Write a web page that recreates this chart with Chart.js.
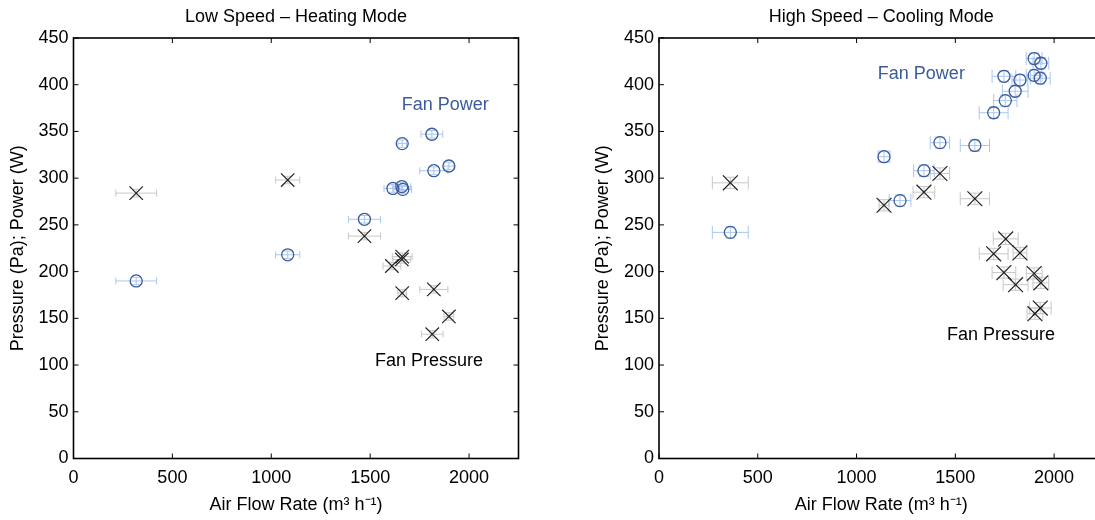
<!DOCTYPE html>
<html>
<head>
<meta charset="utf-8">
<script src="https://cdn.jsdelivr.net/npm/chart.js@4"></script>
<style>
  html, body { margin: 0; padding: 0; background: #fff; overflow: hidden; }
  #wrap { position: relative; width: 1095px; height: 520px; overflow: hidden; }
  .box { position: absolute; top: 0; height: 520px; overflow: hidden; }
</style>
</head>
<body>
<div id="wrap">
  <div class="box" style="left:0; width:547px"><canvas id="lowChart" width="547" height="520"></canvas></div>
  <!-- right axes run past the page edge, as in the original figure -->
  <div class="box" style="left:585px; width:510px"><canvas id="highChart" width="547" height="520"></canvas></div>
</div>
<script>
//* AXIS TICKS
const flowTicks = [0, 500, 1000, 1500, 2000];
const pressTicks = [0, 50, 100, 150, 200, 250, 300, 350, 400, 450];

//* LOW SPEED - HEATING MODE
const lowPowerFlow = [317, 1083, 1471, 1615, 1660, 1665, 1662, 1812, 1822, 1898];
const lowPower = [190, 218, 256, 289, 291, 288, 337, 347, 308, 313];
const lowPowerFlowErr = [103, 61, 81, 45, 45, 45, 22, 55, 71, 25];

const lowPressFlow = [317, 1083, 1471, 1610, 1662, 1660, 1662, 1822, 1898, 1814];
const lowPress = [284, 298, 238, 206, 216, 213, 177, 181, 152, 133];
const lowPressFlowErr = [103, 61, 81, 45, 50, 45, 22, 71, 25, 55];

//* HIGH SPEED - COOLING MODE
const highPowerFlow = [361, 1139, 1220, 1341, 1422, 1599, 1694, 1753, 1803, 1746, 1827, 1899, 1930, 1899, 1933];
const highPower = [242, 323, 276, 308, 338, 335, 370, 383, 393, 409, 405, 410, 407, 428, 423];
const highPowerFlowErr = [91, 30, 55, 52, 49, 74, 73, 59, 65, 60, 40, 40, 50, 40, 40];

const highPressFlow = [361, 1139, 1341, 1422, 1599, 1694, 1755, 1746, 1827, 1805, 1899, 1933, 1930, 1903];
const highPress = [295, 271, 285, 305, 278, 219, 235, 199, 220, 186, 198, 188, 161, 155];
const highPressFlowErr = [91, 25, 55, 49, 74, 73, 63, 60, 35, 63, 40, 40, 55, 40];

const FONT = 'Liberation Sans, Arial, Helvetica, sans-serif';
const POWER_COLOR = '#3b5b9b';

function toPoints(xs, ys) {
    return xs.map((x, i) => ({ x: x, y: ys[i] }));
}

// horizontal + vertical error bars, drawn under the markers
const errorBars = {
    id: 'errorBars',
    beforeDatasetsDraw(chart) {
        const ctx = chart.ctx;
        const xs = chart.scales.x, ys = chart.scales.y;
        chart.data.datasets.forEach(ds => {
            const e = ds.errorBars;
            ctx.save();
            ctx.strokeStyle = e.color;
            ctx.lineWidth = 1;
            ds.data.forEach((p, i) => {
                const px = xs.getPixelForValue(p.x);
                const py = ys.getPixelForValue(p.y);
                const x0 = xs.getPixelForValue(p.x - e.xErr[i]);
                const x1 = xs.getPixelForValue(p.x + e.xErr[i]);
                const y0 = ys.getPixelForValue(p.y - e.yErr);
                const y1 = ys.getPixelForValue(p.y + e.yErr);
                ctx.beginPath();
                ctx.moveTo(x0, py); ctx.lineTo(x1, py);
                ctx.moveTo(x0, py - e.capH); ctx.lineTo(x0, py + e.capH);
                ctx.moveTo(x1, py - e.capH); ctx.lineTo(x1, py + e.capH);
                ctx.moveTo(px, y0); ctx.lineTo(px, y1);
                ctx.moveTo(px - e.capW, y0); ctx.lineTo(px + e.capW, y0);
                ctx.moveTo(px - e.capW, y1); ctx.lineTo(px + e.capW, y1);
                ctx.stroke();
            });
            ctx.restore();
        });
    }
};

// box round the plot with inward ticks (matlab style) + title centred on the axes
const frame = {
    id: 'frame',
    afterDraw(chart) {
        const ctx = chart.ctx;
        const a = chart.chartArea;
        const x = chart.scales.x, y = chart.scales.y;
        ctx.save();
        ctx.strokeStyle = '#000';
        ctx.lineWidth = 1;
        ctx.beginPath();
        x.ticks.forEach(t => {
            const p = x.getPixelForValue(t.value);
            ctx.moveTo(p, a.bottom); ctx.lineTo(p, a.bottom - 5);
            ctx.moveTo(p, a.top); ctx.lineTo(p, a.top + 5);
        });
        y.ticks.forEach(t => {
            const p = y.getPixelForValue(t.value);
            ctx.moveTo(a.left, p); ctx.lineTo(a.left + 5, p);
            ctx.moveTo(a.right, p); ctx.lineTo(a.right - 5, p);
        });
        ctx.stroke();
        ctx.lineWidth = 1.6;
        ctx.strokeRect(a.left, a.top, a.right - a.left, a.bottom - a.top);

        ctx.fillStyle = '#000';
        ctx.font = '18px ' + FONT;
        ctx.textAlign = 'center';
        ctx.textBaseline = 'middle';
        ctx.fillText(chart.options.plugins.frame.title, (a.left + a.right) / 2, 17);
        ctx.restore();
    }
};

function notesPlugin(notes) {
    return {
        id: 'notes',
        afterDatasetsDraw(chart) {
            const ctx = chart.ctx;
            const x = chart.scales.x, y = chart.scales.y;
            ctx.save();
            ctx.font = '18px ' + FONT;
            ctx.textAlign = 'center';
            ctx.textBaseline = 'middle';
            notes.forEach(n => {
                ctx.fillStyle = n.color;
                ctx.fillText(n.text, x.getPixelForValue(n.x), y.getPixelForValue(n.y));
            });
            ctx.restore();
        }
    };
}

function makeChart(id, title, yWidth, power, powerErr, press, pressErr, bars, notes) {
    const data = {
        datasets: [{
            label: 'Fan Power',
            data: power,
            pointStyle: 'circle',
            pointRadius: 6,
            borderColor: POWER_COLOR,
            backgroundColor: 'rgba(0,0,0,0)',
            borderWidth: 1.3,
            showLine: false,
            errorBars: { color: '#a9c6ee', xErr: powerErr, yErr: bars.yErr, capH: bars.capH, capW: bars.capW }
        }, {
            label: 'Fan Pressure',
            data: press,
            pointStyle: 'crossRot',
            pointRadius: bars.crossR,
            borderColor: '#222',
            backgroundColor: 'rgba(0,0,0,0)',
            borderWidth: 1.2,
            showLine: false,
            errorBars: { color: '#c8c8c8', xErr: pressErr, yErr: bars.yErr, capH: bars.capH, capW: bars.capW }
        }]
    };

    const config = {
        type: 'scatter',
        data: data,
        options: {
            responsive: false,
            animation: false,
            events: [],
            layout: { padding: { top: 38, right: 28.5 } },
            scales: {
                x: {
                    type: 'linear',
                    min: 0,
                    max: 2250,
                    grid: { display: false, drawTicks: false },
                    border: { display: false },
                    ticks: { color: '#000', padding: 9, maxRotation: 0, autoSkip: false, font: { family: FONT, size: 18 }, callback: v => String(v) },
                    afterBuildTicks(s) { s.ticks = flowTicks.map(v => ({ value: v })); },
                    title: { display: true, text: 'Air Flow Rate (m³ h⁻¹)', color: '#000', font: { family: FONT, size: 18 }, padding: { top: 0, bottom: 4 } },
                    afterFit(s) { s.height = 61.5; }
                },
                y: {
                    type: 'linear',
                    min: 0,
                    max: 450,
                    grid: { display: false, drawTicks: false },
                    border: { display: false },
                    ticks: { color: '#000', padding: 5, autoSkip: false, font: { family: FONT, size: 18 }, callback: v => String(v) },
                    afterBuildTicks(s) { s.ticks = pressTicks.map(v => ({ value: v })); },
                    title: { display: true, text: 'Pressure (Pa); Power (W)', color: '#000', font: { family: FONT, size: 18 }, padding: { top: 7, bottom: 0 } },
                    afterFit(s) { s.width = yWidth; }
                }
            },
            plugins: {
                legend: { display: false },
                tooltip: { enabled: false },
                title: { display: false },
                frame: { title: title }
            }
        },
        plugins: [errorBars, frame, notesPlugin(notes)]
    };

    return new Chart(document.getElementById(id), config);
}

makeChart('lowChart', 'Low Speed – Heating Mode', 73.5,
    toPoints(lowPowerFlow, lowPower), lowPowerFlowErr,
    toPoints(lowPressFlow, lowPress), lowPressFlowErr,
    { yErr: 4, capH: 3.5, capW: 3.5, crossR: 9.5 },
    [{ text: 'Fan Power', x: 1880, y: 378, color: POWER_COLOR },
     { text: 'Fan Pressure', x: 1797, y: 104, color: '#000' }]);

makeChart('highChart', 'High Speed – Cooling Mode', 74,
    toPoints(highPowerFlow, highPower), highPowerFlowErr,
    toPoints(highPressFlow, highPress), highPressFlowErr,
    { yErr: 6, capH: 6.5, capW: 5, crossR: 10.5 },
    [{ text: 'Fan Power', x: 1328, y: 411, color: POWER_COLOR },
     { text: 'Fan Pressure', x: 1731, y: 132, color: '#000' }]);
</script>
</body>
</html>
